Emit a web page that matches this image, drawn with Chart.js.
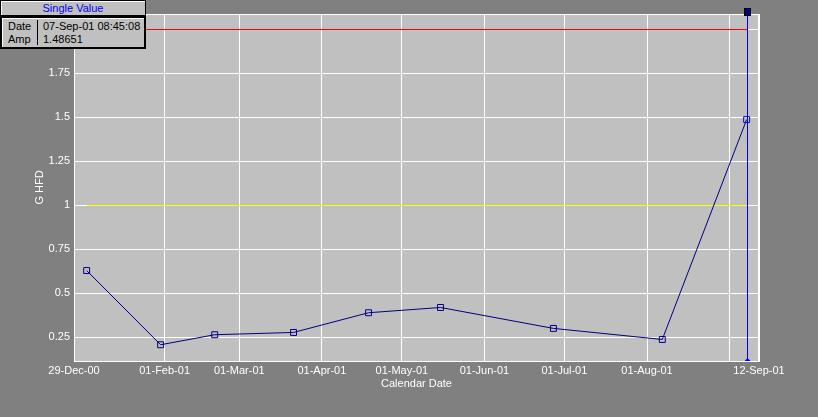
<!DOCTYPE html>
<html>
<head>
<meta charset="utf-8">
<title>G HFD - Calendar Date</title>
<script src="https://cdn.jsdelivr.net/npm/chart.js@4/dist/chart.umd.min.js"></script>
<style>
  html, body { margin: 0; padding: 0; background: #808080; }
  #wrap { position: relative; width: 818px; height: 417px; overflow: hidden; }
  #chart { position: absolute; left: 0; top: 0; }
  .box { position: absolute; box-sizing: border-box; background: #c0c0c0;
         font: 11px "Liberation Sans", Arial, sans-serif; color: #000; }
  #hdr { left: 0; top: 0; width: 146px; height: 16px; border: 1px solid #000;
         box-shadow: inset 1px 1px 0 #fff; color: #0000ff; text-align: center; line-height: 14px; }
  #panel { left: 0; top: 16px; width: 146px; height: 33px; border: 2px solid #000;
           box-shadow: inset 1px 1px 0 #fff; }
  .t { position: absolute; white-space: nowrap; line-height: 13px; }
  #sep { position: absolute; left: 35px; top: 2px; width: 1px; height: 25px; background: #000; }
</style>
</head>
<body>
<div id="wrap">
  <canvas id="chart" width="818" height="417"></canvas>
  <div id="hdr" class="box">Single Value</div>
  <div id="panel" class="box">
    <span class="t" style="left:6px;top:2px">Date</span>
    <span class="t" style="left:6px;top:15px">Amp</span>
    <div id="sep"></div>
    <span class="t" id="infoDate" style="left:41px;top:2px"></span>
    <span class="t" id="infoAmp" style="left:41px;top:15px"></span>
  </div>
</div>
<script>
// sample times (UTC) and G HFD values
var sampleDates = [
    Date.UTC(2001, 0, 2, 18),
    Date.UTC(2001, 0, 30, 12),
    Date.UTC(2001, 1, 19, 19),
    Date.UTC(2001, 2, 21, 9),
    Date.UTC(2001, 3, 18, 12),
    Date.UTC(2001, 4, 15, 12),
    Date.UTC(2001, 5, 26, 21),
    Date.UTC(2001, 7, 6, 17),
    Date.UTC(2001, 8, 7, 8, 45, 8)
];
var sampleValues = [0.628, 0.206, 0.263, 0.276, 0.388, 0.418, 0.299, 0.236, 1.48651];

var xTickDates = [
    Date.UTC(2000, 11, 29),
    Date.UTC(2001, 1, 1),
    Date.UTC(2001, 2, 1),
    Date.UTC(2001, 3, 1),
    Date.UTC(2001, 4, 1),
    Date.UTC(2001, 5, 1),
    Date.UTC(2001, 6, 1),
    Date.UTC(2001, 7, 1),
    Date.UTC(2001, 8, 1),
    Date.UTC(2001, 8, 12)
];
var xTickLabels = ["29-Dec-00", "01-Feb-01", "01-Mar-01", "01-Apr-01", "01-May-01",
                   "01-Jun-01", "01-Jul-01", "01-Aug-01", "", "12-Sep-01"];
var yTickValues = [0.25, 0.5, 0.75, 1, 1.25, 1.5, 1.75, 2];
var yRange = [0.1136, 2.087];

var alarmLevel = 2.0;   // red line
var refLevel = 1.0;     // yellow line
var cursorIndex = 8;
var cursorLabel = "07-Sep-01 08:45:08";

document.getElementById('infoDate').textContent = cursorLabel;
document.getElementById('infoAmp').textContent = String(sampleValues[cursorIndex]);

var points = sampleDates.map(function (d, i) { return {x: d, y: sampleValues[i]}; });
var pointColors = sampleValues.map(function (v, i) { return i === cursorIndex ? '#0000ff' : '#000080'; });

var plotBackground = {
    id: 'plotBackground',
    beforeDraw: function (chart) {
        var a = chart.chartArea, ctx = chart.ctx;
        ctx.save();
        ctx.fillStyle = '#c0c0c0';
        ctx.fillRect(a.left, a.top, a.right - a.left, a.bottom - a.top);
        ctx.strokeStyle = '#ffffff';
        ctx.lineWidth = 1;
        ctx.strokeRect(a.left + 0.5, a.top + 0.5, a.right - a.left - 1, a.bottom - a.top);
        ctx.restore();
    },
    beforeDatasetsDraw: function (chart) {
        var x = chart.scales.x, y = chart.scales.y, ctx = chart.ctx;
        var x0 = Math.round(x.getPixelForValue(sampleDates[0]));
        var x1 = Math.round(x.getPixelForValue(sampleDates[cursorIndex]));
        ctx.save();
        ctx.lineWidth = 1;
        ctx.strokeStyle = '#ff0000';
        var ya = Math.round(y.getPixelForValue(alarmLevel)) + 0.5;
        ctx.beginPath(); ctx.moveTo(x0, ya); ctx.lineTo(x1, ya); ctx.stroke();
        ctx.strokeStyle = '#ffff00';
        var yr = Math.round(y.getPixelForValue(refLevel)) + 0.5;
        ctx.beginPath(); ctx.moveTo(x0, yr); ctx.lineTo(x1, yr); ctx.stroke();
        ctx.restore();
    },
    afterDatasetsDraw: function (chart) {
        var a = chart.chartArea, ctx = chart.ctx;
        var cx = Math.round(chart.scales.x.getPixelForValue(sampleDates[cursorIndex])) + 0.5;
        ctx.save();
        ctx.strokeStyle = '#0000ff';
        ctx.lineWidth = 1;
        ctx.beginPath(); ctx.moveTo(cx, a.top - 6); ctx.lineTo(cx, a.bottom); ctx.stroke();
        ctx.fillStyle = '#000080';
        ctx.strokeStyle = '#000000';
        ctx.fillRect(cx - 3.5, a.top - 6, 7, 8);
        ctx.strokeRect(cx - 3, a.top - 5.5, 6, 7);
        ctx.fillStyle = '#0000ff';
        ctx.beginPath();
        ctx.moveTo(cx - 3, a.bottom); ctx.lineTo(cx + 3, a.bottom); ctx.lineTo(cx, a.bottom - 3);
        ctx.closePath(); ctx.fill();
        ctx.restore();
    }
};

var tickFont = {family: '"Liberation Sans", Arial, sans-serif', size: 11};

var chart = new Chart(document.getElementById('chart'), {
    type: 'line',
    data: {
        datasets: [{
            data: points,
            borderColor: '#000080',
            borderWidth: 1,
            tension: 0,
            fill: false,
            pointStyle: 'rect',
            pointRadius: 4.2,
            pointBorderWidth: 1,
            pointBorderColor: pointColors,
            pointBackgroundColor: 'rgba(0,0,0,0)'
        }]
    },
    options: {
        responsive: false,
        animation: false,
        events: [],
        layout: {padding: {top: 14, right: 59, left: 0, bottom: 0}},
        plugins: {legend: {display: false}, tooltip: {enabled: false}},
        scales: {
            x: {
                type: 'linear',
                min: xTickDates[0],
                max: xTickDates[xTickDates.length - 1],
                afterBuildTicks: function (scale) {
                    scale.ticks = xTickDates.map(function (d) { return {value: d}; });
                },
                afterFit: function (scale) { scale.height = 56; },
                ticks: {
                    autoSkip: false, maxRotation: 0, padding: 3,
                    color: '#ffffff', font: tickFont,
                    callback: function (value, index) { return xTickLabels[index]; }
                },
                grid: {color: '#ffffff', lineWidth: 1, drawTicks: false},
                border: {color: '#ffffff'},
                title: {display: true, text: 'Calendar Date', color: '#ffffff', font: tickFont,
                        padding: {top: 0, bottom: 26}}
            },
            y: {
                min: yRange[0],
                max: yRange[1],
                afterBuildTicks: function (scale) {
                    scale.ticks = yTickValues.map(function (v) { return {value: v}; });
                },
                afterFit: function (scale) { scale.width = 74; },
                ticks: {
                    padding: 4, color: '#ffffff', font: tickFont,
                    callback: function (value) { return String(value); }
                },
                grid: {color: '#ffffff', lineWidth: 1, drawTicks: false},
                border: {color: '#ffffff'},
                title: {display: true, text: 'G HFD', color: '#ffffff', font: tickFont,
                        padding: {top: 33, bottom: 0}}
            }
        }
    },
    plugins: [plotBackground]
});
</script>
</body>
</html>
